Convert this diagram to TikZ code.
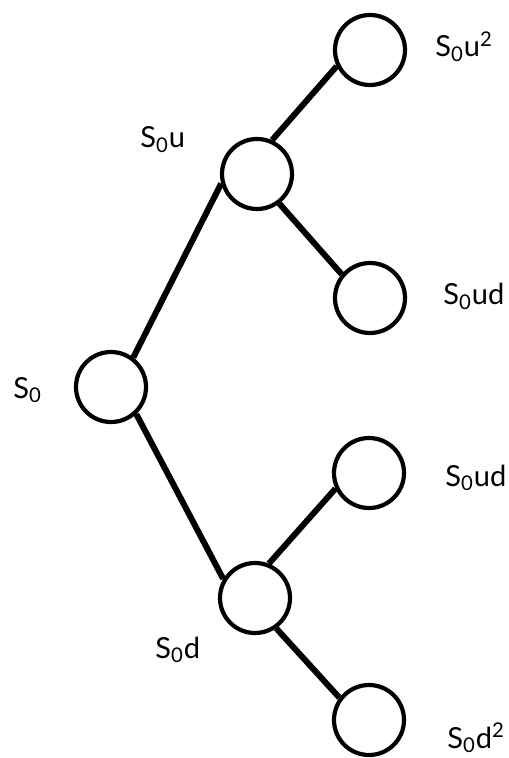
\documentclass[tikz,border=0pt]{standalone}
\usepackage{fontspec}
\setmainfont{Lato}
\begin{document}
\begin{tikzpicture}[x=0.5pt,y=-0.5pt,
  st/.style={circle,draw=black,line width=2.1pt,minimum size=35pt,inner sep=0pt},
  conn/.style={line width=3pt},
  lab/.style={anchor=base west,inner sep=0pt,font=\fontsize{14.5}{16}\selectfont}]
\useasboundingbox (0,0) rectangle (508,758);
\node[st] (s0) at (111,387) {};
\node[st] (su) at (257,174) {};
\node[st] (suu) at (370,50) {};
\node[st] (sud1) at (370,298) {};
\node[st] (sd) at (255,598) {};
\node[st] (sud2) at (369,473) {};
\node[st] (sdd) at (369,720) {};
\draw[conn] (s0.53) -- (su.195);
\draw[conn] (su.66) -- (suu.206);
\draw[conn] (su.-53) -- (sud1.140);
\draw[conn] (s0.-47) -- (sd.149);
\draw[conn] (sd.68) -- (sud2.205);
\draw[conn] (sd.-55) -- (sdd.143);
\node[lab] (l0) at (13,398) {S\textsubscript{0}};
\node[lab] (lu) at (140,148) {S\textsubscript{0}u};
\node[lab] (luu) at (435,57) {S\textsubscript{0}u\textsuperscript{2}};
\node[lab] (lud1) at (443,305) {S\textsubscript{0}ud};
\node[lab] (lud2) at (445,486) {S\textsubscript{0}ud};
\node[lab] (ld) at (155,658) {S\textsubscript{0}d};
\node[lab] (ldd) at (447,748) {S\textsubscript{0}d\textsuperscript{2}};
\end{tikzpicture}
\end{document}
